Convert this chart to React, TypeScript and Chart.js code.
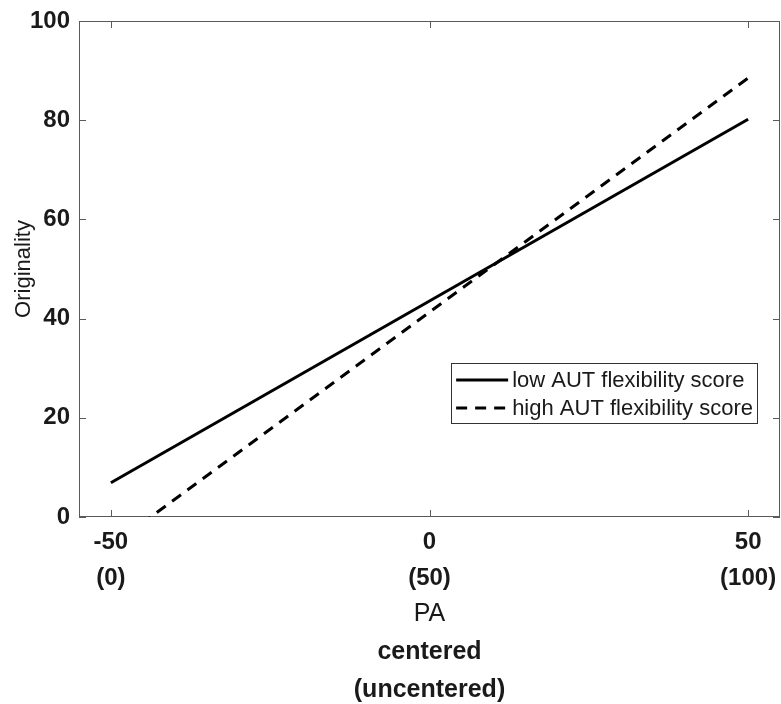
import React, { useEffect, useRef } from "react";
import { Chart, registerables } from "chart.js";

Chart.register(...registerables);

// ---- data ----
const xValues = [-50, 50];
const lowFlexibility = [6.9, 80.2];
const highFlexibility = [-5.9, 88.5];
const seriesLabels = ["low AUT flexibility score", "high AUT flexibility score"];
const xTickValues = [-50, 0, 50];
const xTickUncentered = ["(0)", "(50)", "(100)"];
const yTickStep = 20;
const yMin = 0;
const yMax = 100;
const xMin = -55;
const xMax = 55;
const yTitle = "Originality";
const xTitleLines = ["PA", "centered", "(uncentered)"];

const FONT = '"Liberation Sans", Arial, Helvetica, sans-serif';

const framePlugin = {
  id: "frame",
  beforeDatasetsDraw(chart: any) {
    const { ctx, chartArea: a, scales } = chart;
    ctx.save();
    ctx.strokeStyle = "#5a5a5a";
    ctx.lineWidth = 1;
    ctx.strokeRect(a.left + 0.5, a.top + 0.5, a.right - a.left - 1, a.bottom - a.top - 1);
    const tl = 7;
    ctx.beginPath();
    scales.x.ticks.forEach((t: any) => {
      const px = Math.round(scales.x.getPixelForValue(t.value)) + 0.5;
      ctx.moveTo(px, a.bottom);
      ctx.lineTo(px, a.bottom - tl);
      ctx.moveTo(px, a.top);
      ctx.lineTo(px, a.top + tl);
    });
    scales.y.ticks.forEach((t: any) => {
      const py = Math.round(scales.y.getPixelForValue(t.value)) + 0.5;
      ctx.moveTo(a.left, py);
      ctx.lineTo(a.left + tl, py);
      ctx.moveTo(a.right, py);
      ctx.lineTo(a.right - tl, py);
    });
    ctx.stroke();
    ctx.restore();
  },
  afterDraw(chart: any) {
    const { ctx, chartArea: a } = chart;
    ctx.save();
    // y title
    ctx.fillStyle = "#1a1a1a";
    ctx.font = `22px ${FONT}`;
    ctx.textAlign = "center";
    ctx.textBaseline = "middle";
    ctx.translate(24, (a.top + a.bottom) / 2);
    ctx.rotate(-Math.PI / 2);
    ctx.fillText(yTitle, 0, 0);
    ctx.restore();

    // x title
    ctx.save();
    ctx.fillStyle = "#1a1a1a";
    ctx.textAlign = "center";
    ctx.textBaseline = "middle";
    const cx = chart.scales.x.getPixelForValue(0);
    xTitleLines.forEach((line, i) => {
      ctx.font = i === 0 ? `25px ${FONT}` : `bold 25px ${FONT}`;
      ctx.fillText(line, cx, a.bottom + 97 + i * 38);
    });
    ctx.restore();

    // legend
    ctx.save();
    ctx.font = `22px ${FONT}`;
    const ds = chart.data.datasets;
    let maxW = 0;
    ds.forEach((d: any) => {
      maxW = Math.max(maxW, ctx.measureText(d.label).width);
    });
    const sample = 52;
    const boxW = 5 + sample + 4 + maxW + 4;
    const boxH = 60;
    const right = a.right - 23;
    const left = right - boxW;
    const top = a.bottom - 154;
    ctx.fillStyle = "#ffffff";
    ctx.fillRect(left, top, boxW, boxH);
    ctx.strokeStyle = "#333333";
    ctx.lineWidth = 1;
    ctx.strokeRect(Math.round(left) + 0.5, Math.round(top) + 0.5, Math.round(boxW), boxH);
    ds.forEach((d: any, i: number) => {
      const cy = top + 17 + i * 28;
      ctx.strokeStyle = d.borderColor;
      ctx.lineWidth = d.borderWidth;
      ctx.setLineDash(d.borderDash || []);
      ctx.beginPath();
      ctx.moveTo(left + 5, cy);
      ctx.lineTo(left + 5 + sample, cy);
      ctx.stroke();
      ctx.setLineDash([]);
      ctx.fillStyle = "#1a1a1a";
      ctx.textAlign = "left";
      ctx.textBaseline = "middle";
      ctx.fillText(d.label, left + 5 + sample + 4, cy + 1);
    });
    ctx.restore();
  },
};

export default function App() {
  const ref = useRef<HTMLCanvasElement>(null);
  useEffect(() => {
    if (!ref.current) return;
    const chart = new Chart(ref.current, {
      type: "scatter",
      data: {
        datasets: [
          {
            label: seriesLabels[0],
            data: xValues.map((x, i) => ({ x, y: lowFlexibility[i] })),
            showLine: true,
            borderColor: "#000000",
            backgroundColor: "#000000",
            borderWidth: 3,
            pointRadius: 0,
            clip: 0,
          },
          {
            label: seriesLabels[1],
            data: xValues.map((x, i) => ({ x, y: highFlexibility[i] })),
            showLine: true,
            borderColor: "#000000",
            backgroundColor: "#000000",
            borderWidth: 3,
            borderDash: [11, 8],
            pointRadius: 0,
            clip: 0,
          },
        ],
      },
      options: {
        animation: false,
        responsive: false,
        devicePixelRatio: 1,
        layout: { autoPadding: false, padding: { top: 21, right: 1, left: 0, bottom: 0 } },
        plugins: {
          legend: { display: false },
          tooltip: { enabled: false },
        },
        scales: {
          x: {
            type: "linear",
            min: xMin,
            max: xMax,
            grid: { display: false, drawTicks: false },
            border: { display: false },
            afterBuildTicks: (scale: any) => {
              scale.ticks = xTickValues.map((v) => ({ value: v }));
            },
            afterFit: (scale: any) => {
              scale.height = 187;
              scale.paddingLeft = 0;
              scale.paddingRight = 0;
            },
            ticks: {
              padding: 7,
              maxRotation: 0,
              autoSkip: false,
              color: "#1a1a1a",
              font: { family: FONT, size: 24, weight: "bold", lineHeight: 1.5 },
              callback: (value: any) => {
                const i = xTickValues.indexOf(Number(value));
                return [String(value), xTickUncentered[i] ?? ""];
              },
            },
          },
          y: {
            type: "linear",
            min: yMin,
            max: yMax,
            grid: { display: false, drawTicks: false },
            border: { display: false },
            afterFit: (scale: any) => {
              scale.width = 79;
              scale.paddingTop = 0;
              scale.paddingBottom = 0;
            },
            ticks: {
              stepSize: yTickStep,
              padding: 9,
              color: "#1a1a1a",
              font: { family: FONT, size: 24, weight: "bold" },
            },
          },
        },
      },
      plugins: [framePlugin],
    } as any);
    return () => chart.destroy();
  }, []);
  return (
    <div style={{ position: "fixed", left: 0, top: 0, width: 781, height: 704, background: "#fff" }}>
      <canvas ref={ref} width={781} height={704} />
    </div>
  );
}
